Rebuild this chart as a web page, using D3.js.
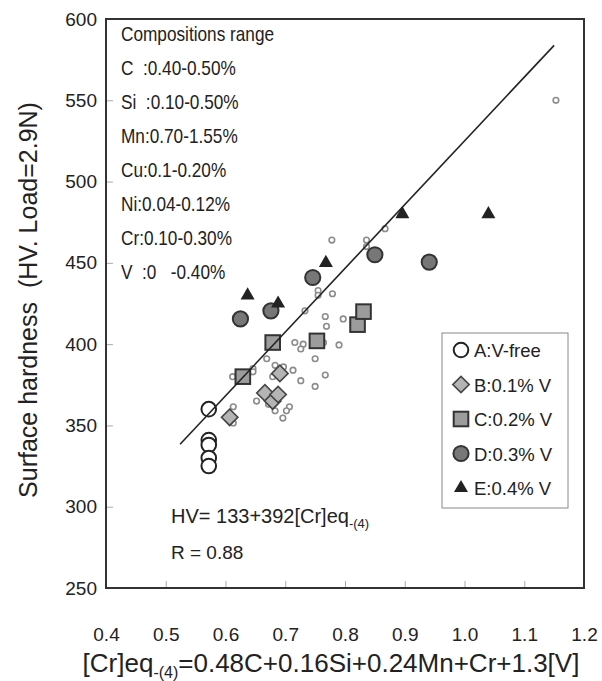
<!DOCTYPE html>
<html><head><meta charset="utf-8">
<script src="https://cdn.jsdelivr.net/npm/d3@7"></script>
<style>
html,body{margin:0;padding:0;background:#fff;}
svg{display:block;}
text{font-family:"Liberation Sans", Arial, Helvetica, sans-serif; fill:#222;}
</style></head><body>
<svg id="chart" width="602" height="681"></svg>
<script>
// ---- data ----
const xTicks = [0.4, 0.5, 0.6, 0.7, 0.8, 0.9, 1.0, 1.1, 1.2];
const xTickLabels = ["0.4", "0.5", "0.6", "0.7", "0.8", "0.9", "1.0", "1.1", "1.2"];
const yTicks = [250, 300, 350, 400, 450, 500, 550, 600];

// A: V-free
const aX = [0.572, 0.572, 0.572, 0.572, 0.572];
const aY = [360, 341, 338, 330, 325];
// B: 0.1% V
const bX = [0.607, 0.666, 0.679, 0.688, 0.691];
const bY = [355, 370, 365, 369, 382];
// C: 0.2% V
const cX = [0.629, 0.679, 0.753, 0.821, 0.831];
const cY = [380, 401, 402, 412, 420];
// D: 0.3% V
const dX = [0.625, 0.676, 0.746, 0.850, 0.941];
const dY = [415.5, 420.5, 441, 455, 450.5];
// E: 0.4% V
const eX = [0.637, 0.688, 0.768, 0.896, 1.040];
const eY = [430, 425, 450, 480, 480];
// other steels (small open circles)
const oX = [0.755, 0.755, 0.779, 0.733, 0.767, 0.769, 0.797, 0.716, 0.730, 0.726, 0.764, 0.790,
            0.750, 0.669, 0.683, 0.697, 0.646, 0.646, 0.612, 0.679, 0.713, 0.767, 0.726, 0.750,
            0.652, 0.672, 0.707, 0.702, 0.683, 0.696, 0.613, 0.613,
            1.153, 0.867, 0.836, 0.836, 0.778];
const oY = [433, 430, 431, 420.5, 417, 411, 415.5, 401, 400, 397, 401, 399.5,
            391, 391, 387, 386, 385, 383, 380, 380, 384, 381, 377.5, 374,
            365, 363, 361.5, 359, 359, 354.5, 361.5, 351.5,
            550, 471, 464, 460, 464];

// regression line HV = 133 + 392 [Cr]eq
const fitIntercept = 133, fitSlope = 392;
const fitRange = [0.524, 1.150];

const compLines = ["Compositions range", "C  :0.40-0.50%", "Si  :0.10-0.50%", "Mn:0.70-1.55%",
                   "Cu:0.1-0.20%", "Ni:0.04-0.12%", "Cr:0.10-0.30%", "V  :0   -0.40%"];
const legendLabels = ["A:V-free", "B:0.1% V", "C:0.2% V", "D:0.3% V", "E:0.4% V"];

// ---- layout ----
const svg = d3.select("#chart");
const plotL = 106, plotR = 584, plotT = 19, plotB = 588;
const x = d3.scaleLinear().domain([0.4, 1.2]).range([plotL, plotR]);
const y = d3.scaleLinear().domain([250, 600]).range([plotB, plotT]);

// axes (ticks point inward)
const xAxis = svg.append("g").attr("transform", `translate(0,${plotB})`)
  .call(d3.axisBottom(x).tickValues(xTicks).tickFormat((d, i) => xTickLabels[i])
        .tickSizeInner(-7).tickSizeOuter(0).tickPadding(40));
xAxis.select(".domain").remove();
xAxis.selectAll(".tick line").attr("stroke", "#aaa");
xAxis.selectAll(".tick text").attr("font-size", 19).attr("font-family", null).attr("fill", "#222");

const yAxis = svg.append("g").attr("transform", `translate(${plotL},0)`)
  .call(d3.axisLeft(y).tickValues(yTicks).tickSizeInner(-7).tickSizeOuter(0).tickPadding(9));
yAxis.select(".domain").remove();
yAxis.selectAll(".tick line").attr("stroke", "#aaa");
yAxis.selectAll(".tick text").attr("font-size", 19).attr("font-family", null).attr("fill", "#222");

// frame
svg.append("rect").attr("x", plotL).attr("y", plotT).attr("width", plotR - plotL).attr("height", plotB - plotT)
  .attr("fill", "none").attr("stroke", "#333").attr("stroke-width", 2);

// small open circles
svg.append("g").selectAll("circle").data(oX.map((v, i) => [v, oY[i]])).join("circle")
  .attr("cx", d => x(d[0])).attr("cy", d => y(d[1])).attr("r", 2.8)
  .attr("fill", "#fff").attr("stroke", "#8c8c8c").attr("stroke-width", 1.6);

// series markers
const marker = {
  A: g => g.append("circle").attr("r", 7.3).attr("fill", "#fff").attr("stroke", "#222").attr("stroke-width", 2),
  B: g => g.append("rect").attr("x", -5.8).attr("y", -5.8).attr("width", 11.6).attr("height", 11.6)
           .attr("transform", "rotate(45)").attr("fill", "#b4b4b4").attr("stroke", "#444").attr("stroke-width", 1.6),
  C: g => g.append("rect").attr("x", -7.3).attr("y", -7.3).attr("width", 14.6).attr("height", 14.6)
           .attr("fill", "#9c9c9c").attr("stroke", "#333").attr("stroke-width", 2),
  D: g => g.append("circle").attr("r", 7.6).attr("fill", "#777").attr("stroke", "#333").attr("stroke-width", 2),
  E: g => g.append("path").attr("d", d3.symbol(d3.symbolTriangle, 85)()).attr("fill", "#222")
};
const series = [["A", aX, aY], ["B", bX, bY], ["C", cX, cY], ["D", dX, dY], ["E", eX, eY]];
series.forEach(([key, xs, ys]) => {
  svg.append("g").selectAll("g").data(xs.map((v, i) => [v, ys[i]])).join("g")
    .attr("transform", d => `translate(${x(d[0])},${y(d[1])})`)
    .each(function () { marker[key](d3.select(this)); });
});

// regression line
svg.append("line")
  .attr("x1", x(fitRange[0])).attr("y1", y(fitIntercept + fitSlope * fitRange[0]))
  .attr("x2", x(fitRange[1])).attr("y2", y(fitIntercept + fitSlope * fitRange[1]))
  .attr("stroke", "#222").attr("stroke-width", 1.6);

// composition block (condensed lettering)
compLines.forEach((t, i) => {
  svg.append("text").attr("transform", `translate(121,${41 + i * 34}) scale(0.82,1)`)
    .attr("font-size", 21).style("white-space", "pre").text(t);
});

// fit equation
const eq = svg.append("text").attr("x", 171).attr("y", 523).attr("font-size", 20);
eq.append("tspan").text("HV= 133+392[Cr]eq");
eq.append("tspan").attr("font-size", 13).attr("dy", 5).text("-(4)");
svg.append("text").attr("x", 171).attr("y", 559).attr("font-size", 19).text("R = 0.88");

// legend
svg.append("rect").attr("x", 442).attr("y", 333).attr("width", 126).attr("height", 175)
  .attr("fill", "#fff").attr("stroke", "#888").attr("stroke-width", 1);
legendLabels.forEach((t, i) => {
  const key = "ABCDE"[i];
  const g = svg.append("g").attr("transform", `translate(461,${350 + i * 34.5})`);
  marker[key](g);
  svg.append("text").attr("x", 474).attr("y", 357 + i * 34.5).attr("font-size", 18.5).text(t);
});

// axis titles
const xt = svg.append("text").attr("x", 331).attr("y", 672).attr("text-anchor", "middle").attr("font-size", 26);
xt.append("tspan").text("[Cr]eq");
xt.append("tspan").attr("font-size", 16).attr("dy", 6).text("-(4)");
xt.append("tspan").attr("dy", -6).text("=0.48C+0.16Si+0.24Mn+Cr+1.3[V]");

svg.append("text").attr("transform", "translate(37,300) rotate(-90)").attr("text-anchor", "middle")
  .attr("font-size", 25).style("white-space", "pre").text("Surface hardness  (HV. Load=2.9N)");
</script>
</body></html>
